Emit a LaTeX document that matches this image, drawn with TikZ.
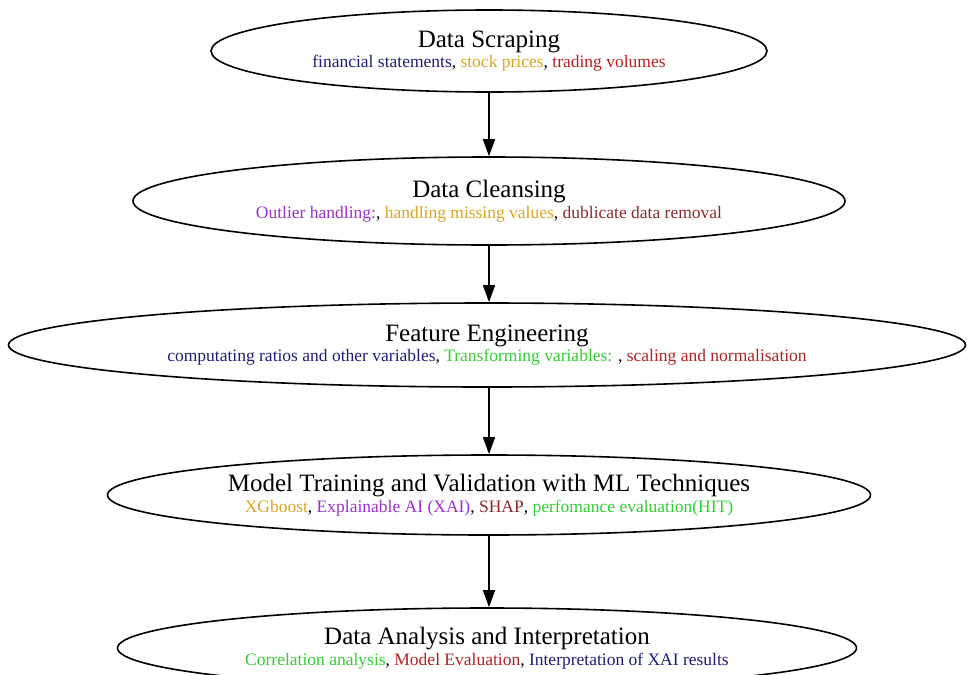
\documentclass[tikz,border=0pt]{standalone}
\usepackage{fontspec}
\setmainfont{Liberation Serif}
\usetikzlibrary{shapes.geometric,arrows.meta}

\definecolor{navy}{HTML}{1E1E78}
\definecolor{gold}{HTML}{DAA520}
\definecolor{redish}{HTML}{B22222}
\definecolor{violet}{HTML}{9932CC}
\definecolor{rust}{HTML}{8B2A2A}
\definecolor{lime}{HTML}{32CD32}

\newcommand{\ttl}[1]{{\fontsize{25}{27}\selectfont #1}}
\newcommand{\sub}[1]{{\fontsize{17.5}{19}\selectfont #1}}

\begin{document}
\begin{tikzpicture}[x=1pt,y=-1pt,
  every node/.style = {shape=ellipse, draw, line width=1.6pt,
    align=center, inner sep=0pt},
  flow/.style = {-{Triangle[length=17pt,width=12pt]}, line width=1.6pt}]
\useasboundingbox (0,0) rectangle (967,675);
\node[minimum width=556, minimum height=82] (scrape) at (489,51)
  {\ttl{Data Scraping}\\[2pt]
   \sub{\textcolor{navy}{financial statements}, \textcolor{gold}{stock prices}, \textcolor{redish}{trading volumes}}};
\node[minimum width=712, minimum height=88] (cleanse) at (489,201)
  {\ttl{Data Cleansing}\\[2pt]
   \sub{\textcolor{violet}{Outlier handling:}, \textcolor{gold}{handling missing values}, \textcolor{rust}{dublicate data removal}}};
\node[minimum width=957, minimum height=84] (feature) at (487,345)
  {\ttl{Feature Engineering}\\[2pt]
   \sub{\textcolor{navy}{computating ratios and other variables}, \textcolor{lime}{Transforming variables: }, \textcolor{redish}{scaling and normalisation}}};
\node[minimum width=763, minimum height=80] (model) at (489,495)
  {\ttl{Model Training and Validation with ML Techniques}\\[2pt]
   \sub{\textcolor{gold}{XGboost}, \textcolor{violet}{Explainable AI (XAI)}, \textcolor{rust}{SHAP}, \textcolor{lime}{perfomance evaluation(HIT)}}};
\node[minimum width=739, minimum height=80] (analysis) at (487,648)
  {\ttl{Data Analysis and Interpretation}\\[2pt]
   \sub{\textcolor{lime}{Correlation analysis}, \textcolor{redish}{Model Evaluation}, \textcolor{navy}{Interpretation of XAI results}}};
\draw[flow] (scrape) -- (scrape |- cleanse.north);
\draw[flow] (cleanse) -- (cleanse |- feature.north);
\draw[flow] (cleanse |- feature.south) -- (cleanse |- model.north);
\draw[flow] (model) -- (model |- analysis.north);
\end{tikzpicture}
\end{document}
